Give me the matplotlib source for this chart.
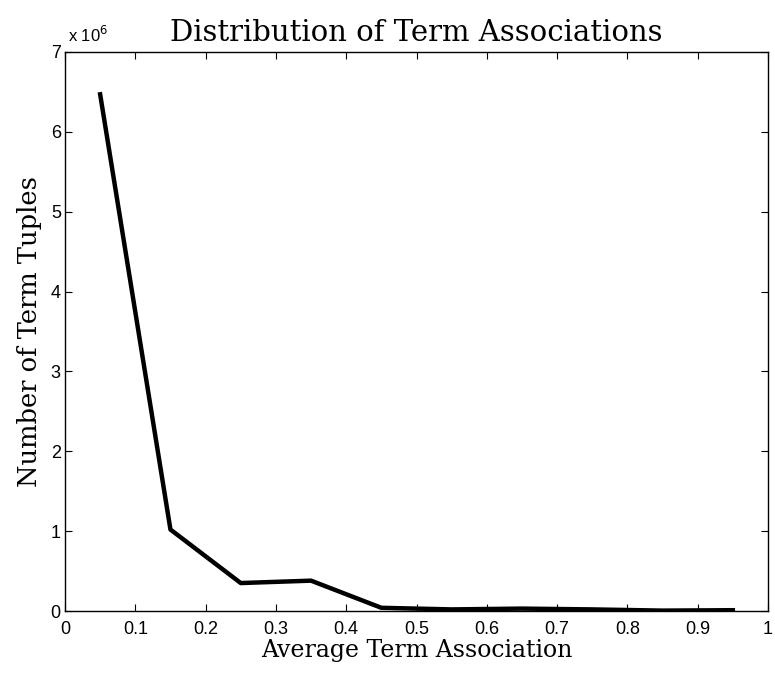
import numpy as np
import matplotlib
matplotlib.use("Agg")
from matplotlib import pyplot as plt
from matplotlib.ticker import FuncFormatter

# bin centres and tuple counts
assoc = [0.05, 0.15, 0.25, 0.35, 0.45, 0.55, 0.65, 0.75, 0.85, 0.95]
tuples = [6.47e6, 1.02e6, 0.35e6, 0.38e6, 0.04e6, 0.02e6, 0.03e6, 0.02e6, 0.005e6, 0.01e6]

xticks = [0, 0.1, 0.2, 0.3, 0.4, 0.5, 0.6, 0.7, 0.8, 0.9, 1]
yticks = [0, 1e6, 2e6, 3e6, 4e6, 5e6, 6e6, 7e6]

fig = plt.figure(figsize=(7.75, 6.74), dpi=100)
ax = fig.add_axes([65/775, (674-611)/674, (768-65)/775, (611-52)/674])

ax.plot(assoc, tuples, color="black", linewidth=3.2)

ax.set_xlim(0, 1)
ax.set_ylim(0, 7e6)
ax.set_xticks(xticks)
ax.set_yticks(yticks)
ax.xaxis.set_major_formatter(FuncFormatter(lambda v, p: "%g" % v))
ax.yaxis.set_major_formatter(FuncFormatter(lambda v, p: "%d" % round(v / 1e6)))
ax.tick_params(direction="in", top=True, right=True, length=5, width=0.8,
               labelsize=13)
ax.tick_params(axis="x", pad=7)
ax.tick_params(axis="y", pad=3)
for lab in ax.get_xticklabels() + ax.get_yticklabels():
    lab.set_family("Liberation Sans")
for s in ax.spines.values():
    s.set_linewidth(1.0)

ax.text(0.004, 1.012, "x 10$^6$", transform=ax.transAxes, fontsize=12,
        family="Liberation Sans", ha="left", va="bottom")

ax.set_title("Distribution of Term Associations", family="DejaVu Serif",
             fontsize=21, pad=8)
ax.set_xlabel("Average Term Association", family="DejaVu Serif", fontsize=17,
              labelpad=1)
ax.set_ylabel("Number of Term Tuples", family="DejaVu Serif", fontsize=18.5,
              labelpad=6)

fig.savefig("out.png", dpi=100)
